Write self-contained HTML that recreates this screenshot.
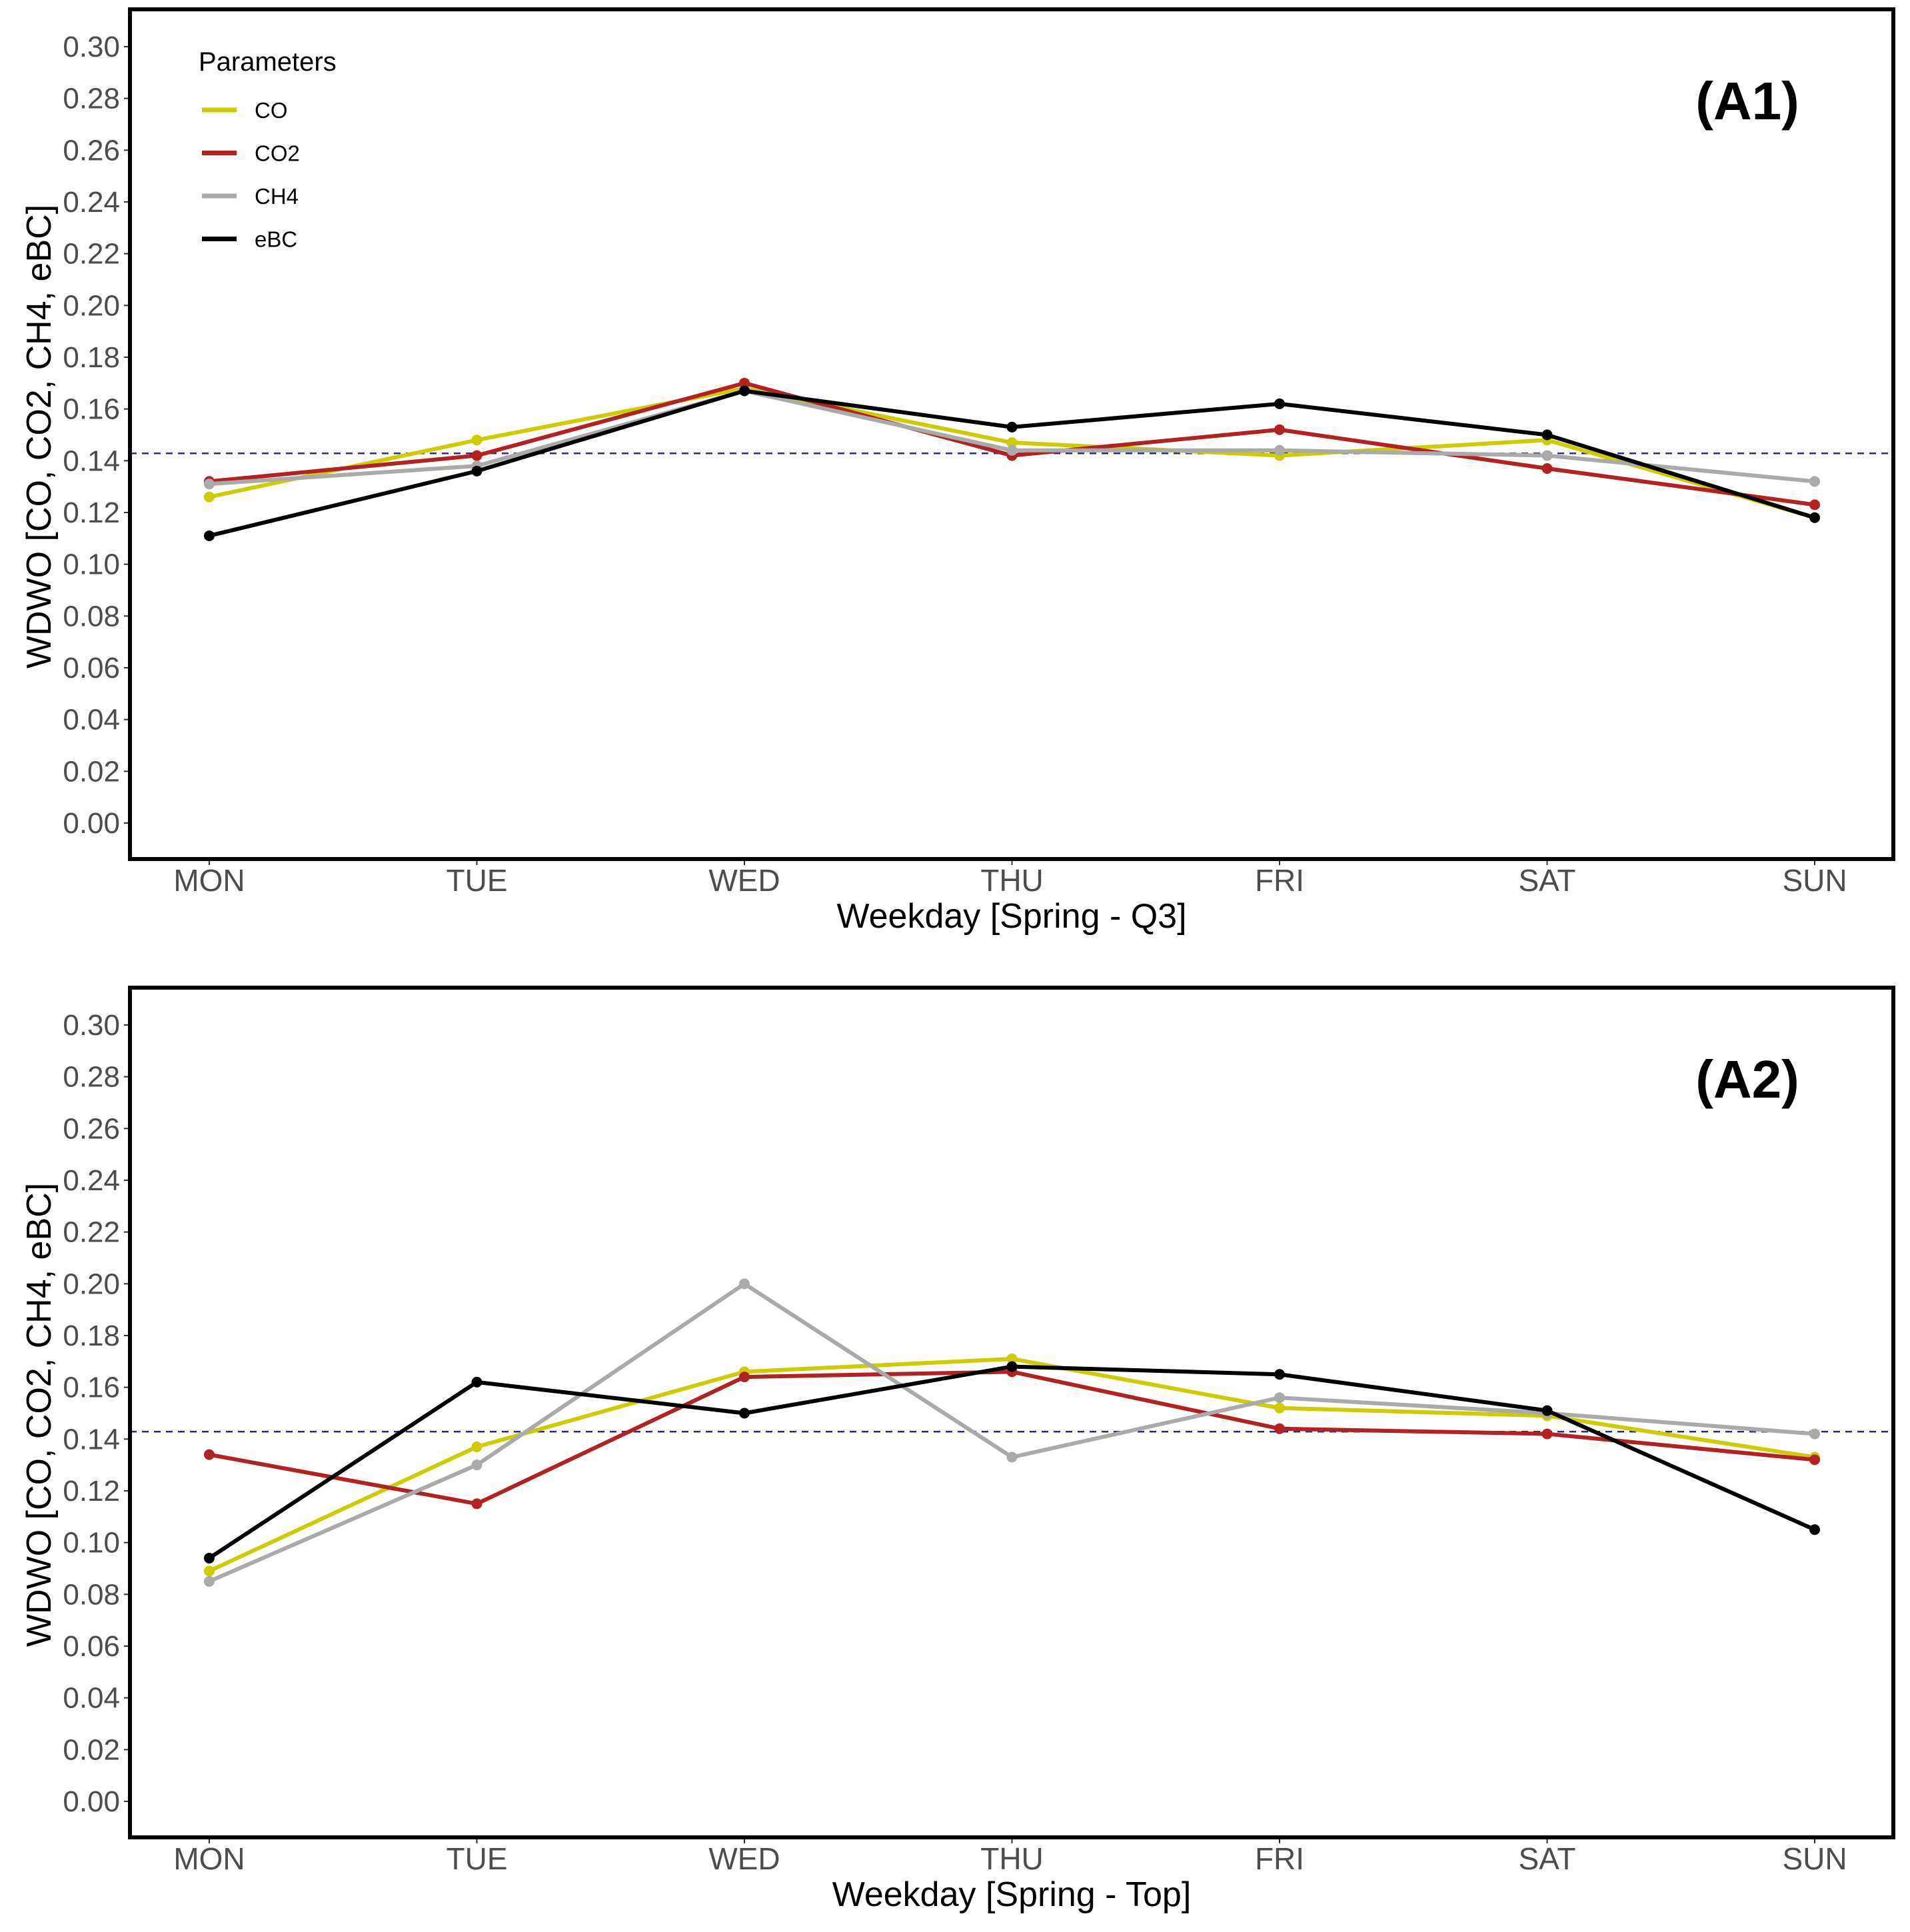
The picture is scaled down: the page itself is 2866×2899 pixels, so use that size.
<!DOCTYPE html>
<html><head><meta charset="utf-8"><style>body{margin:0;background:#fff}svg{display:block}text{font-family:"Liberation Sans",sans-serif}</style></head>
<body>
<svg id="chart" width="2866" height="2899" xmlns="http://www.w3.org/2000/svg"></svg>
<script>
const days = ["MON","TUE","WED","THU","FRI","SAT","SUN"];
const yTicks = [0,0.02,0.04,0.06,0.08,0.10,0.12,0.14,0.16,0.18,0.20,0.22,0.24,0.26,0.28,0.30];
const seriesNames = ["CO","CO2","CH4","eBC"];
const a1CO  = [0.126,0.148,0.168,0.147,0.142,0.148,0.118];
const a1CO2 = [0.132,0.142,0.170,0.142,0.152,0.137,0.123];
const a1CH4 = [0.131,0.138,0.167,0.144,0.144,0.142,0.132];
const a1eBC = [0.111,0.136,0.167,0.153,0.162,0.150,0.118];
const a2CO  = [0.089,0.137,0.166,0.171,0.152,0.149,0.133];
const a2CO2 = [0.134,0.115,0.164,0.166,0.144,0.142,0.132];
const a2CH4 = [0.085,0.130,0.200,0.133,0.156,0.150,0.142];
const a2eBC = [0.094,0.162,0.150,0.168,0.165,0.151,0.105];
const refLine = 1/7;
const colors = ["#cccc00","#b22222","#aaaaaa","#000000"];
const svg = document.getElementById('chart');
const NS = "http://www.w3.org/2000/svg";
function mk(tag, attrs, parent){const e=document.createElementNS(NS,tag);for(const k in attrs)e.setAttribute(k,attrs[k]);(parent||svg).appendChild(e);return e;}
function panel(off, label, xtitle, data, showLegend){
  const g = mk('g',{});
  
  
  const L=195,R=2841,T=14+off,B=1289+off;
  const x = i => 314 + i*401.5;
  const y = v => 1235 + off - v*(1165/0.30);
  yTicks.forEach(t=>{
    const tx=mk('text',{x:180,y:y(t)+15,'text-anchor':'end','font-size':44,fill:'#4d4d4d'},g);
    tx.textContent=t.toFixed(2);
    
    
    mk('line',{x1:186,x2:195,y1:y(t),y2:y(t),stroke:'#333','stroke-width':2},g);
  });
  days.forEach((d,i)=>{
    const tx=mk('text',{x:x(i),y:B+48,'text-anchor':'middle','font-size':46,fill:'#4d4d4d'},g);
    tx.textContent=d;
    
    
    mk('line',{x1:x(i),x2:x(i),y1:B,y2:B+9,stroke:'#333','stroke-width':2},g);
  });
  const dl=mk('line',{x1:L,x2:R,y1:y(refLine),y2:y(refLine),stroke:'#2b2ba0','stroke-width':2.5,'stroke-dasharray':'10 8'},g);
  
  
  data.forEach((s,si)=>{
    const p=mk('polyline',{points:s.map((v,i)=>x(i)+','+y(v)).join(' '),fill:'none',stroke:colors[si],'stroke-width':6,'stroke-linejoin':'round'},g);
    
    
    s.forEach((v,i)=>{
      const c=mk('circle',{cx:x(i),cy:y(v),r:8,fill:colors[si]},g);
      
      
    });
  });
  const fr=mk('rect',{x:L,y:T,width:R-L,height:B-T,fill:'none',stroke:'#000','stroke-width':6},g);
  
  
  const lb=mk('text',{x:2622,y:T+165,'text-anchor':'middle','font-size':80,'font-weight':'bold',fill:'#000'},g);
  lb.textContent=label;
  
  
  const xt=mk('text',{x:1518,y:B+103,'text-anchor':'middle','font-size':52,fill:'#000'},g);
  xt.textContent=xtitle;
  
  
  const yc=655+off;
  const yt=mk('text',{x:0,y:0,'text-anchor':'middle','font-size':52,fill:'#000',transform:'translate(76,'+yc+') rotate(-90)'},g);
  yt.textContent='WDWO [CO, CO2, CH4, eBC]';
  
  
  if(showLegend){
    const lg=mk('g',{},g);
    
    
    const ti=mk('text',{x:298,y:106,'font-size':40,fill:'#000'},lg);
    ti.textContent='Parameters';
    seriesNames.forEach((n,i)=>{
      const yy=165+i*64.5;
      const e=mk('g',{},lg);
      
      
      mk('line',{x1:303,x2:355,y1:yy,y2:yy,stroke:colors[i],'stroke-width':7},e);
      const t=mk('text',{x:382,y:yy+12,'font-size':33,fill:'#000'},e);
      t.textContent=n;
    });
  }
}
panel(0,'(A1)','Weekday [Spring - Q3]',[a1CO,a1CO2,a1CH4,a1eBC],true);
panel(1468,'(A2)','Weekday [Spring - Top]',[a2CO,a2CO2,a2CH4,a2eBC],false);
</script>
</body></html>
